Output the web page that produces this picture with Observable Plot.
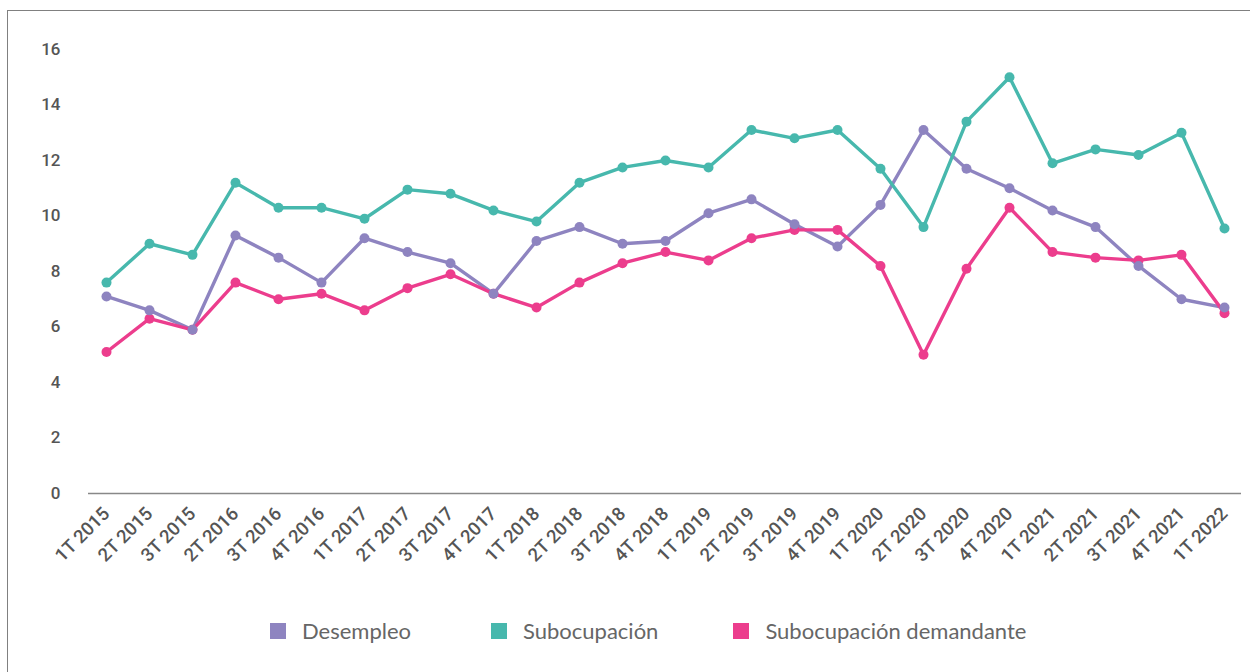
<!DOCTYPE html>
<html>
<head>
<meta charset="utf-8">
<script src="https://cdn.jsdelivr.net/npm/d3@7"></script>
<script src="https://cdn.jsdelivr.net/npm/@observablehq/plot@0.6"></script>
<style>
  html, body { margin: 0; padding: 0; background: #fff; width: 1250px; height: 672px; overflow: hidden; }
  #frame { position: absolute; left: 7px; top: 10px; width: 1300px; height: 700px;
           border-left: 1.5px solid #808080; border-top: 1.5px solid #808080; box-sizing: border-box; }
  #chart { position: absolute; left: 0; top: 0; }
  #legend { position: absolute; left: 270px; top: 617px; display: flex; align-items: center;
            font-family: Lato, "Noto Sans", sans-serif; font-size: 22px; color: #666; }
  .item { display: flex; align-items: center; }
  .sw { width: 16px; height: 16px; margin-right: 16px; }
</style>
</head>
<body>
<div id="frame"></div>
<div id="chart"></div>
<div id="legend"></div>
<script>
const periods = ["1T 2015","2T 2015","3T 2015","2T 2016","3T 2016","4T 2016","1T 2017","2T 2017","3T 2017","4T 2017","1T 2018","2T 2018","3T 2018","4T 2018","1T 2019","2T 2019","3T 2019","4T 2019","1T 2020","2T 2020","3T 2020","4T 2020","1T 2021","2T 2021","3T 2021","4T 2021","1T 2022"];
const desempleo    = [7.1,6.6,5.9,9.3,8.5,7.6,9.2,8.7,8.3,7.2,9.1,9.6,9.0,9.1,10.1,10.6,9.7,8.9,10.4,13.1,11.7,11.0,10.2,9.6,8.2,7.0,6.7];
const subocupacion = [7.6,9.0,8.6,11.2,10.3,10.3,9.9,10.95,10.8,10.2,9.8,11.2,11.75,12.0,11.75,13.1,12.8,13.1,11.7,9.6,13.4,15.0,11.9,12.4,12.2,13.0,9.55];
const demandante   = [5.1,6.3,5.9,7.6,7.0,7.2,6.6,7.4,7.9,7.2,6.7,7.6,8.3,8.7,8.4,9.2,9.5,9.5,8.2,5.0,8.1,10.3,8.7,8.5,8.4,8.6,6.5];
const seriesNames  = ["Desempleo","Subocupación","Subocupación demandante"];
const seriesColors = ["#8e84c0","#47b8ad","#ec3d8d"];
const yTicks = [0,2,4,6,8,10,12,14,16];

const seriesValues = [desempleo, subocupacion, demandante];
const data = seriesNames.flatMap((name, s) =>
  periods.map((p, i) => ({ period: p, value: seriesValues[s][i], serie: name })));

const colorOf = Object.fromEntries(seriesNames.map((n, i) => [n, seriesColors[i]]));

const lineMarks = seriesNames.map(n =>
  Plot.line(data.filter(d => d.serie === n), { x: "period", y: "value", stroke: colorOf[n], strokeWidth: 3.4 }));
const dotOrder = [seriesNames[2], seriesNames[1], seriesNames[0]];
const dotMarks = dotOrder.map(n =>
  Plot.dot(data.filter(d => d.serie === n), { x: "period", y: "value", fill: colorOf[n], r: 5 }));

const chart = Plot.plot({
  width: 1250,
  height: 590,
  marginLeft: 88,
  marginRight: 9,
  marginTop: 49,
  marginBottom: 97,
  style: { fontFamily: "Roboto, sans-serif", background: "transparent", overflow: "visible" },
  x: { type: "point", domain: periods, padding: 0.38, label: null },
  y: { domain: [0, 16], label: null },
  marks: [
    Plot.axisY({ ticks: yTicks, tickSize: 0, tickPadding: 28, fontSize: 17, fontWeight: 500, fill: "#555", label: null }),
    Plot.axisX({ tickSize: 0, tickPadding: 17, tickRotate: -45, fontSize: 18.5, fontWeight: 500, fill: "#555", label: null }),
    Plot.ruleY([0], { stroke: "#888", strokeWidth: 1.5 }),
    ...lineMarks,
    ...dotMarks
  ]
});
document.getElementById("chart").appendChild(chart);

const legend = d3.select("#legend");
const gaps = ["80px", "75px", "0px"];
seriesNames.forEach((n, i) => {
  const it = legend.append("div").attr("class", "item").style("margin-right", gaps[i]);
  it.append("div").attr("class", "sw").style("background", seriesColors[i]);
  it.append("span").text(n);
});
</script>
</body>
</html>
